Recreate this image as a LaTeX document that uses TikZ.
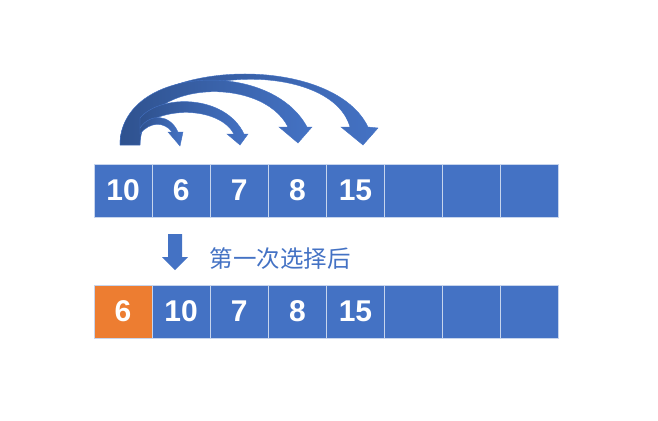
\documentclass[tikz,border=0pt]{standalone}
\usepackage{fontspec}
\setmainfont{Liberation Sans}
\newfontfamily\cjkfont{Noto Sans CJK SC}
\usetikzlibrary{positioning}
\definecolor{cellblue}{HTML}{4472C4}
\definecolor{cellorange}{HTML}{ED7D31}
\definecolor{arcdark}{HTML}{2F528F}

\begin{document}
\begin{tikzpicture}[x=1pt,y=-1pt,
                    cell/.style = {draw=white!70!cellblue, line width=1pt, fill=cellblue, text=white,
                                   minimum width=58.1pt, minimum height=53pt, inner sep=0pt, outer sep=0pt,
                                   font=\fontsize{30}{36}\selectfont\bfseries},
                    arcarrow/.style = {left color=arcdark, right color=cellblue, draw=cellblue, line width=0.4pt}]
                \useasboundingbox (0,0) rectangle (658,420);
                % array before the pass
                \node[cell] (t1) at (123.05,190.5) {10};
                \foreach \prev/\cur/\v in {1/2/6,2/3/7,3/4/8,4/5/15,5/6/{},6/7/{},7/8/{}}
                    \node[cell, right=0pt of t\prev] (t\cur) {\v};
                % array after the pass
                \node[cell, fill=cellorange] (b1) at (123.05,311.5) {6};
                \foreach \prev/\cur/\v in {1/2/10,2/3/7,3/4/8,4/5/15,5/6/{},6/7/{},7/8/{}}
                    \node[cell, right=0pt of b\prev] (b\cur) {\v};
                % curved compare arrows
                \path[arcarrow] (120,145) .. controls (118,60) and (330,48) .. (368,127) -- (378,128) -- (363,145)
                    -- (341,127) -- (350,127) .. controls (330,56) and (138,66) .. (140,145) -- cycle;
                \path[arcarrow] (120,145) .. controls (120,66) and (270,58) .. (307,127) -- (312,127) -- (298,143)
                    -- (279,127) -- (288,127) .. controls (262,75) and (140,80) .. (140,145) -- cycle;
                \path[arcarrow] (140,118) .. controls (160,94) and (225,94) .. (244,134) -- (248,134) -- (240,145)
                    -- (227,134) -- (234,134) .. controls (220,108) and (165,105) .. (140,128) -- cycle;
                \path[arcarrow] (140,128) .. controls (150,113) and (170,114) .. (178,132) -- (183,132) -- (180,146)
                    -- (168,132) -- (172,132) .. controls (165,122) and (150,121) .. (140,134) -- cycle;
                % step arrow and caption
                \fill[cellblue] (168,234) -- (182,234) -- (182,257) -- (188,257) -- (175,270) -- (162,257)
                    -- (168,257) -- cycle;
                \node[text=cellblue, font=\cjkfont\fontsize{23.5}{28}\selectfont, anchor=west] (step) at (206,259) {第一次选择后};
                \end{tikzpicture}
\end{document}
